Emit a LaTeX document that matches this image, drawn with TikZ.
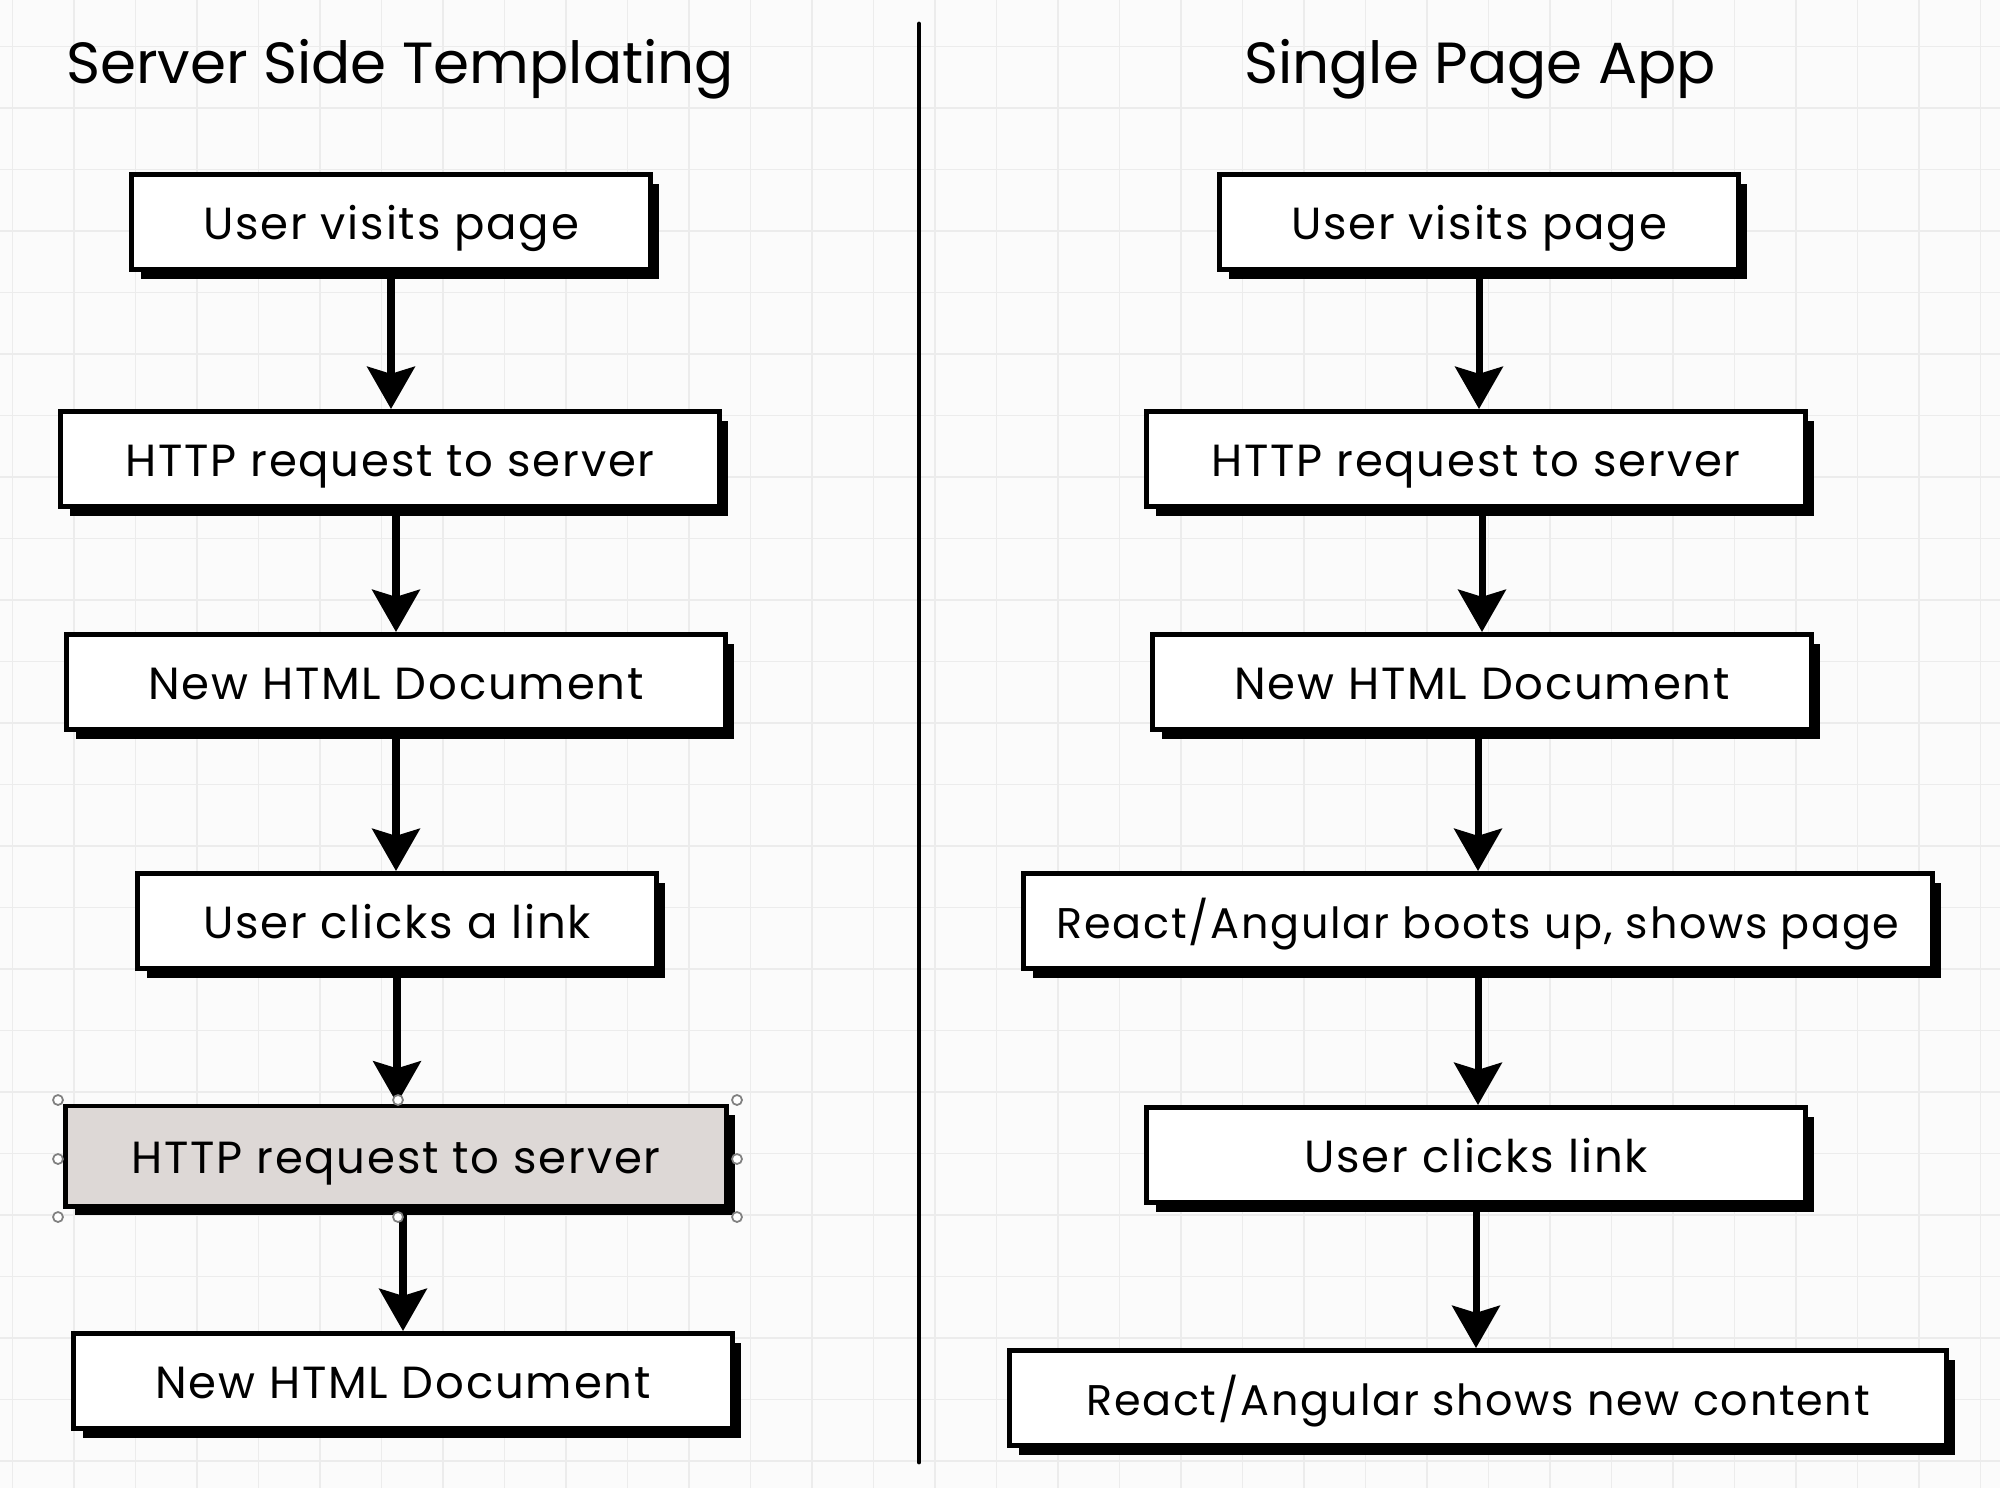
\documentclass[tikz,border=0pt]{standalone}
\usepackage{fontspec}
\setmainfont{Poppins}
\newfontfamily\boxfont[LetterSpace=4]{Poppins}
\usepackage{tikz}
\usetikzlibrary{arrows.meta,positioning,shadows,calc}
\usepackage{xcolor}
\definecolor{paperwhite}{RGB}{251,251,251}
\definecolor{gridgray}{RGB}{236,236,236}
\definecolor{pickedgray}{RGB}{221,216,214}

\begin{document}
\begin{tikzpicture}[x=0.01cm,y=-0.01cm,
    stepbox/.style={draw,line width=1.4pt,fill=white,inner sep=0pt,
        minimum height=0.95cm,text height=11pt,text depth=1.3pt,
        font=\boxfont\fontsize{12.8}{15}\selectfont,
        drop shadow={shadow xshift=2.6pt,shadow yshift=-2.6pt,opacity=1,fill=black}},
    widebox/.style={stepbox,font=\boxfont\fontsize{12.2}{15}\selectfont},
    pickedbox/.style={stepbox,fill=pickedgray},
    flow/.style={line width=2pt,-{Stealth[length=12pt,width=13.5pt,inset=2pt]}},
    handle/.style={draw=gray,fill=white,line width=0.5pt},
    heading/.style={font=\fontsize{16.5}{20}\selectfont}]
    \useasboundingbox (0,0) rectangle (2000,1488);
    \fill[paperwhite] (0,0) rectangle (2000,1488);
    % faint grid
    \foreach \gx in {0,...,32} \draw[gridgray,line width=0.5pt] (12.5+61.5*\gx,0) -- (12.5+61.5*\gx,1488);
    \foreach \gy in {0,...,24} \draw[gridgray,line width=0.5pt] (0,-15+61.5*\gy) -- (2000,-15+61.5*\gy);

    % divider
    \draw[line width=1.4pt,line cap=round] (919,24) -- (919,1462);

    % Server side templating
    \node[heading] (ssthead) at (400,69) {Server Side Templating};
    \node[stepbox,minimum width=5.18cm] (ssta) at (391,222) {User visits page};
    \node[stepbox,minimum width=6.58cm] (sstb) at (390,459) {HTTP request to server};
    \node[stepbox,minimum width=6.58cm] (sstc) at (396,682) {New HTML Document};
    \node[stepbox,minimum width=5.18cm] (sstd) at (397,921) {User clicks a link};
    \node[pickedbox,minimum width=6.60cm,minimum height=1cm] (sste) at (396,1156) {HTTP request to server};
    \node[stepbox,minimum width=6.58cm] (sstf) at (403,1381) {New HTML Document};
    \draw[flow] (ssta.south) -- (ssta.south |- sstb.north);
    \draw[flow] (sstc.north |- sstb.south) -- (sstc.north);
    \draw[flow] (sstc.south) -- (sstc.south |- sstd.north);
    \draw[flow] (sstd.south) -- (sstd.south |- sste.north);
    \draw[flow] (sstf.north |- sste.south) -- (sstf.north);
    % selection handles
    \foreach \hx in {58,398,737}
        \foreach \hy in {1100,1217}
            \draw[handle] (\hx,\hy) circle (5);
    \draw[handle] (58,1159) circle (5);
    \draw[handle] (737,1159) circle (5);

    % Single page app
    \node[heading] (spahead) at (1480,69) {Single Page App};
    \node[stepbox,minimum width=5.18cm] (spaa) at (1479,222) {User visits page};
    \node[stepbox,minimum width=6.58cm] (spab) at (1476,459) {HTTP request to server};
    \node[stepbox,minimum width=6.58cm] (spac) at (1482,682) {New HTML Document};
    \node[widebox,minimum width=9.08cm] (spad) at (1478,921) {React/Angular boots up, shows page};
    \node[stepbox,minimum width=6.58cm] (spae) at (1476,1155) {User clicks link};
    \node[widebox,minimum width=9.36cm] (spaf) at (1478,1398) {React/Angular shows new content};
    \draw[flow] (spaa.south) -- (spaa.south |- spab.north);
    \draw[flow] (spac.north |- spab.south) -- (spac.north);
    \draw[flow] (spad.north |- spac.south) -- (spad.north);
    \draw[flow] (spad.south) -- (spad.south |- spae.north);
    \draw[flow] (spae.south) -- (spae.south |- spaf.north);
\end{tikzpicture}
\end{document}
